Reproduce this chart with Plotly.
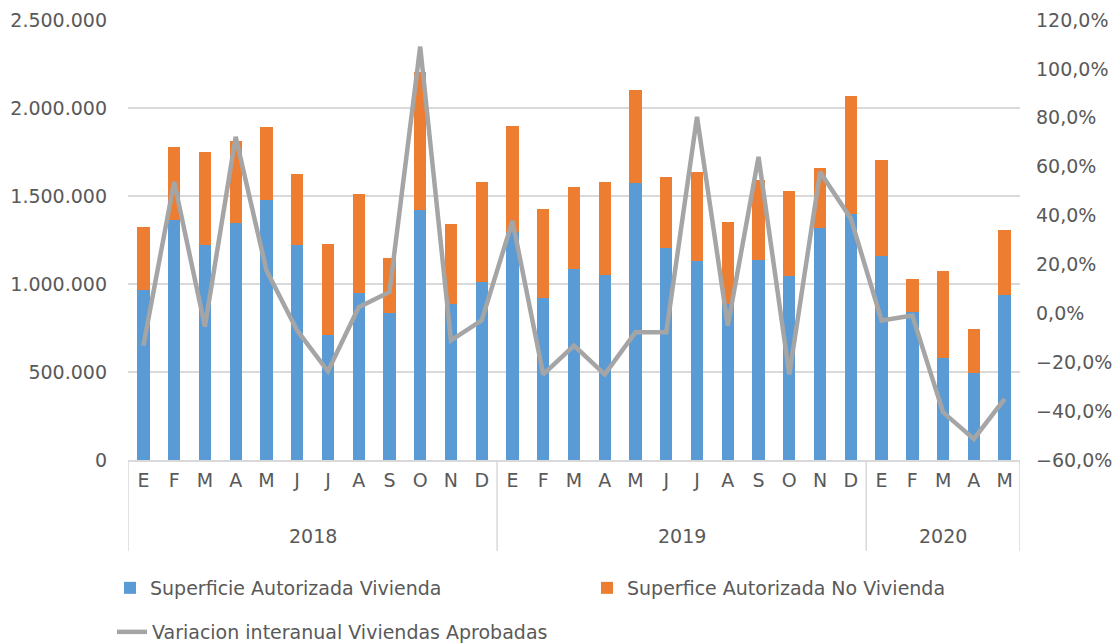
import plotly.graph_objects as go

years = ["2018"] * 12 + ["2019"] * 12 + ["2020"] * 5
months = ["E", "F", "M", "A", "M", "J", "J", "A", "S", "O", "N", "D",
          "E", "F", "M", "A", "M", "J", "J", "A", "S", "O", "N", "D",
          "E", "F", "M", "A", "M"]

vivienda = [965000, 1366000, 1224000, 1347000, 1479000, 1220000, 713000, 948000, 833000, 1423000, 889000, 1012000,
            1296000, 923000, 1088000, 1050000, 1574000, 1207000, 1133000, 889000, 1135000, 1048000, 1318000, 1396000,
            1160000, 842000, 577000, 496000, 937000]
total = [1324000, 1778000, 1750000, 1810000, 1892000, 1627000, 1230000, 1513000, 1146000, 2204000, 1339000, 1580000,
         1896000, 1428000, 1551000, 1581000, 2100000, 1606000, 1638000, 1351000, 1589000, 1531000, 1659000, 2069000,
         1706000, 1031000, 1075000, 745000, 1309000]
no_vivienda = [t - v for t, v in zip(total, vivienda)]
variacion = [-13.2, 53.8, -5.4, 72.2, 17.6, -7.0, -23.7, 2.5, 8.7, 109.1, -11.1, -2.9,
             37.8, -25.0, -13.2, -25.0, -7.7, -7.7, 80.4, -5.0, 64.0, -25.0, 57.8, 38.8,
             -2.9, -0.9, -40.5, -51.4, -35.0]
variacion_frac = [v / 100 for v in variacion]

# unique category labels (invisible zero-width suffix for repeated month letters)
cats = [m + "\u200b" * i for i, m in enumerate(months)]

FONT = "DejaVu Sans"
GRAY = "#595959"
GRID = "#d9d9d9"
FS = 19
W, H = 1112, 636   # page body has an 8px margin

fig = go.Figure()
fig.add_trace(go.Bar(x=cats, y=vivienda, name="Superficie Autorizada Vivienda",
                     marker=dict(color="#5b9bd5", line=dict(width=0)), legend="legend"))
fig.add_trace(go.Bar(x=cats, y=no_vivienda, name="Superfice Autorizada No Vivienda",
                     marker=dict(color="#ed7d31", line=dict(width=0)), legend="legend2"))
fig.add_trace(go.Scatter(x=cats, y=variacion_frac, name="Variacion interanual Viviendas Aprobadas",
                         mode="lines", line=dict(color="#a5a5a5", width=4.5), yaxis="y2",
                         legend="legend3"))

# year group labels and dividers, derived from the data
year_order = []
for y in years:
    if y not in year_order:
        year_order.append(y)
start = 0
boundaries = [-0.5]
for y in year_order:
    n = years.count(y)
    center = start + (n - 1) / 2
    fig.add_annotation(x=center, y=-0.173, xref="x", yref="paper", text=y, showarrow=False,
                       yanchor="middle", font=dict(family=FONT, size=FS, color=GRAY))
    start += n
    boundaries.append(start - 0.5)
for b in boundaries:
    fig.add_shape(type="line", x0=b, x1=b, xref="x", y0=0, y1=-0.207, yref="paper",
                  line=dict(color=GRID, width=1.5))

legend_common = dict(orientation="h", xref="container", yref="container", xanchor="left",
                     yanchor="middle", bgcolor="rgba(0,0,0,0)", visible=True,
                     font=dict(family=FONT, size=FS, color=GRAY))

fig.update_layout(
    width=W, height=H,
    showlegend=True,
    margin=dict(l=120, r=100, t=12, b=184),
    plot_bgcolor="white", paper_bgcolor="white",
    separators=",.",
    barmode="stack", bargap=0.6,
    font=dict(family=FONT, size=FS, color=GRAY),
    xaxis=dict(type="category", showgrid=False, showline=True, linecolor=GRID,
               linewidth=1.5, ticks="", ticklabelstandoff=2, range=[-0.5, len(cats) - 0.5],
               automargin=False, tickfont=dict(family=FONT, size=FS, color=GRAY)),
    yaxis=dict(range=[0, 2500000], dtick=500000, tickformat=",d", showgrid=True,
               gridcolor=GRID, gridwidth=1.5, zeroline=False, ticks="", ticklabelstandoff=20,
               automargin=False, tickfont=dict(family=FONT, size=FS, color=GRAY)),
    yaxis2=dict(range=[-0.6, 1.2], dtick=0.2, tickformat=".1%", overlaying="y", side="right",
                showgrid=False, zeroline=False, ticks="", ticklabelstandoff=15,
                automargin=False, tickfont=dict(family=FONT, size=FS, color=GRAY)),
    legend=dict(x=102 / W, y=1 - 580 / H, **legend_common),
    legend2=dict(x=579 / W, y=1 - 580 / H, **legend_common),
    legend3=dict(x=104 / W, y=1 - 624 / H, **legend_common),
)

fig.write_html("out.html")
